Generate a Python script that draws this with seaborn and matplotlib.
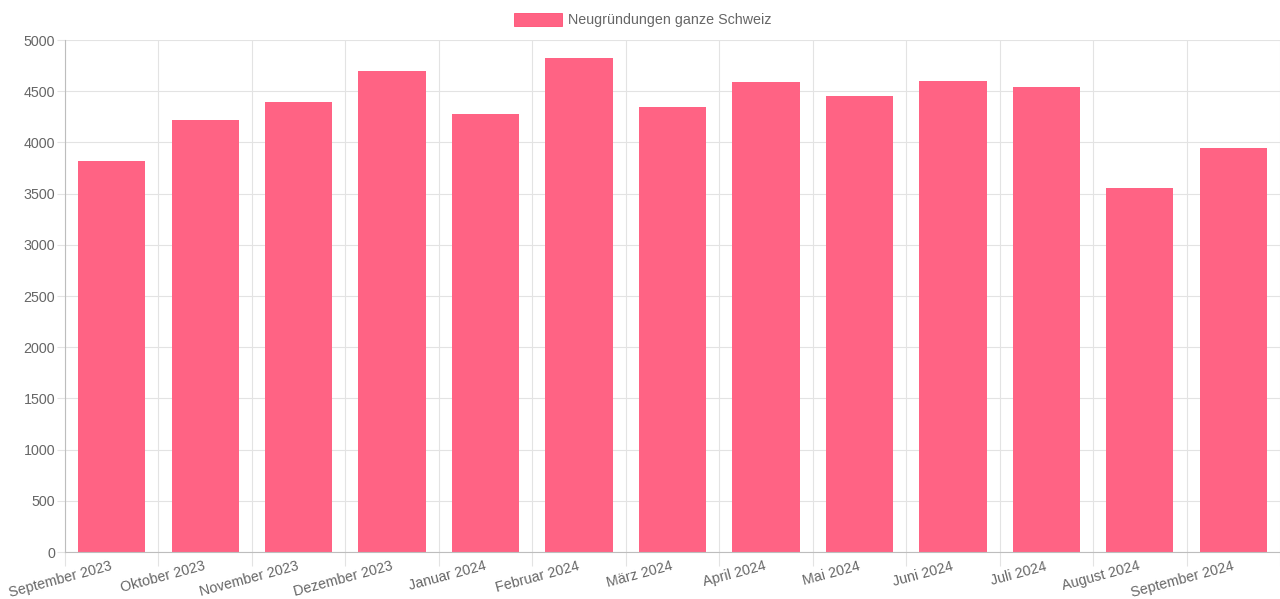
import matplotlib
matplotlib.use("Agg")
import matplotlib.pyplot as plt
from matplotlib.patches import Patch
import seaborn as sns
import numpy as np

months = ["September 2023", "Oktober 2023", "November 2023", "Dezember 2023",
          "Januar 2024", "Februar 2024", "März 2024", "April 2024", "Mai 2024",
          "Juni 2024", "Juli 2024", "August 2024", "September 2024"]
neugruendungen = [3820, 4218, 4390, 4693, 4274, 4826, 4346, 4593, 4456,
                  4600, 4544, 3553, 3945]
series_label = "Neugründungen ganze Schweiz"
y_ticks = list(range(0, 5001, 500))

BAR_COLOR = "#ff6384"
TEXT_COLOR = "#666666"
GRID_COLOR = "#e3e3e3"
AXIS_COLOR = "#bdbdbd"
FS = 10.3

sns.set_theme(style="white")
plt.rcParams["font.family"] = ["Liberation Sans", "DejaVu Sans"]

W, H = 1280, 599
fig = plt.figure(figsize=(W / 100, H / 100), dpi=100)
ax = fig.add_axes([65 / W, (H - 552) / H, (W - 65) / W, 512 / H])

sns.barplot(x=months, y=neugruendungen, color=BAR_COLOR, saturation=1,
            width=0.72, linewidth=0, ax=ax)

n = len(months)
ax.set_xlim(-0.5, n - 0.5)
ax.set_ylim(0, 5000)
ax.set_yticks(y_ticks)
ax.set_yticklabels([str(t) for t in y_ticks], fontsize=FS, color=TEXT_COLOR)

# category boundaries carry the grid and tick marks
ax.set_xticks(np.arange(n + 1) - 0.5, minor=True)
ax.set_xticks(np.arange(n))
ax.set_xticklabels(months, fontsize=FS, color=TEXT_COLOR, rotation=15,
                   ha="right", va="center", rotation_mode="anchor")
ax.tick_params(axis="x", which="major", length=0, pad=10)
ax.tick_params(axis="x", which="minor", length=10, width=0.8, color=GRID_COLOR,
               direction="out", bottom=True)
ax.tick_params(axis="y", length=5.5, width=0.8, color=GRID_COLOR, left=True,
               pad=1.5)

ax.grid(False)
ax.set_axisbelow(True)
ax.xaxis.grid(True, which="minor", color=GRID_COLOR, linewidth=0.8)
ax.yaxis.grid(True, which="major", color=GRID_COLOR, linewidth=0.8)

for side in ["top", "right"]:
    ax.spines[side].set_visible(False)
for side in ["left", "bottom"]:
    ax.spines[side].set_color(AXIS_COLOR)
    ax.spines[side].set_linewidth(0.8)
ax.set_xlabel("")
ax.set_ylabel("")

handle = Patch(facecolor=BAR_COLOR, edgecolor="#ff4d73", linewidth=0.6)
fig.legend([handle], [series_label], loc="center",
           bbox_to_anchor=(643 / W, 1 - 20 / H), frameon=False, fontsize=FS,
           labelcolor=TEXT_COLOR, handlelength=48 / 14.3, handleheight=0.98,
           handletextpad=0.45, borderpad=0)

fig.savefig("out.png", dpi=100, facecolor="white")
